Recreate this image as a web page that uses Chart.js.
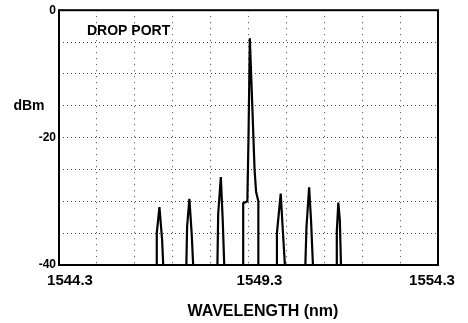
<!DOCTYPE html>
<html>
<head>
<meta charset="utf-8">
<script src="https://cdn.jsdelivr.net/npm/chart.js@4"></script>
<style>
  body { margin: 0; background: #fff; }
  #wrap { width: 468px; height: 323px; position: relative; }
</style>
</head>
<body>
<div id="wrap"><canvas id="spectrum"></canvas></div>
<script>
// trace: wavelength (nm) and power (dBm)
const traceNm = [
  1544.3,
  1546.87, 1546.88, 1546.95, 1547.02, 1547.05,
  1547.66, 1547.68, 1547.74, 1547.80, 1547.84,
  1548.48, 1548.50, 1548.57, 1548.62, 1548.66,
  1549.16, 1549.16, 1549.27, 1549.30, 1549.335, 1549.40, 1549.46, 1549.50, 1549.56, 1549.56,
  1550.03, 1550.05, 1550.15, 1550.20, 1550.26,
  1550.80, 1550.83, 1550.90, 1550.95, 1551.00,
  1551.62, 1551.63, 1551.67, 1551.71, 1551.74,
  1554.3
];
const traceDbm = [
  -40,
  -40, -35, -30.9, -36, -40,
  -40, -34, -29.6, -35, -40,
  -40, -32, -26.2, -33, -40,
  -40, -30.3, -30.0, -20, -4.4, -15, -25, -28.5, -30, -40,
  -40, -35, -28.8, -34, -40,
  -40, -34, -27.8, -33, -40,
  -40, -34.8, -30.2, -33, -40,
  -40
];

const xTickLabels = [1544.3, 1549.3, 1554.3];
const yTickLabels = [0, -20, -40];
const yUnitAt = -15;

const xMin = 1544.3, xMax = 1554.3;
const yMin = -40, yMax = 0;

const FONT = "'Liberation Sans', Arial, sans-serif";

const points = traceNm.map((nm, i) => ({ x: nm, y: traceDbm[i] }));

// text that sits outside the normal tick layout + the heavy frame
const decor = {
  id: 'decor',
  afterDraw(chart) {
    const ctx = chart.ctx;
    const area = chart.chartArea;
    const xs = chart.scales.x, ys = chart.scales.y;
    ctx.save();

    ctx.strokeStyle = '#000';
    ctx.lineWidth = 2;
    ctx.strokeRect(area.left, area.top, area.right - area.left, area.bottom - area.top);

    ctx.fillStyle = '#000';
    ctx.textBaseline = 'middle';

    // x tick labels (slightly off-centre in the original)
    const shift = [11, 11, -6];
    ctx.font = 'bold 15px ' + FONT;
    ctx.textAlign = 'center';
    xTickLabels.forEach((v, i) => {
      ctx.fillText(v.toFixed(1), xs.getPixelForValue(v) + shift[i], 281);
    });

    ctx.font = 'bold 16px ' + FONT;
    ctx.fillText('WAVELENGTH (nm)', 263, 312);

    ctx.font = 'bold 14px ' + FONT;
    ctx.fillText('dBm', 29, ys.getPixelForValue(yUnitAt));

    ctx.textAlign = 'left';
    ctx.fillText('DROP PORT', 87, 31);

    ctx.restore();
  }
};

new Chart(document.getElementById('spectrum'), {
  type: 'line',
  data: {
    datasets: [{
      data: points,
      borderColor: '#000',
      borderWidth: 2.2,
      pointRadius: 0,
      tension: 0,
      fill: false
    }]
  },
  options: {
    responsive: true,
    maintainAspectRatio: false,
    animation: false,
    layout: { padding: { top: 9, right: 30, left: 0, bottom: 0 } },
    plugins: { legend: { display: false }, tooltip: { enabled: false } },
    scales: {
      x: {
        type: 'linear',
        min: xMin,
        max: xMax,
        ticks: { display: false, stepSize: 1 },
        grid: { color: '#444', lineWidth: 1, drawTicks: false },
        border: { display: false, dash: [1, 5] },
        afterFit: s => { s.height = 58; }
      },
      y: {
        min: yMin,
        max: yMax,
        ticks: {
          stepSize: 5,
          padding: 3,
          color: '#000',
          font: { family: FONT, size: 12, weight: 'bold' },
          callback: v => yTickLabels.includes(v) ? String(v) : ''
        },
        grid: { color: '#444', lineWidth: 1, drawTicks: false },
        border: { display: false, dash: [1, 3] },
        afterFit: s => { s.width = 59; }
      }
    }
  },
  plugins: [decor]
});
</script>
</body>
</html>
